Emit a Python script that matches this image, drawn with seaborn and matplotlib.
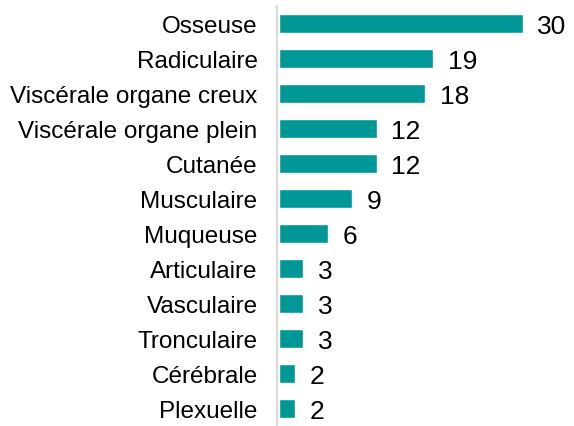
import matplotlib
matplotlib.use("Agg")
import matplotlib.pyplot as plt
import seaborn as sns
import pandas as pd

categories = ["Osseuse", "Radiculaire", "Viscérale organe creux", "Viscérale organe plein",
              "Cutanée", "Musculaire", "Muqueuse", "Articulaire", "Vasculaire",
              "Tronculaire", "Cérébrale", "Plexuelle"]
values = [30, 19, 18, 12, 12, 9, 6, 3, 3, 3, 2, 2]

df = pd.DataFrame({"cat": categories, "val": values})

sns.set_theme(style="white")
plt.rcParams['font.family'] = ['Liberation Sans', 'DejaVu Sans']

fig = plt.figure(figsize=(5.74, 4.27), dpi=100)
ax = fig.add_axes([277/574, 0, (574-277)/574, 420/427])
sns.barplot(data=df, y="cat", x="val", orient="h", color="#009896",
            saturation=1, width=0.57, ax=ax)
ax.set_xlim(-0.25, 36.3)
ax.set_ylim(len(categories) - 0.5, -0.5)
for i, v in enumerate(values):
    ax.text(v + 1.8, i + 0.06, str(v), va="center", ha="left", fontsize=19, color="black")
for s in ["top", "right", "bottom"]:
    ax.spines[s].set_visible(False)
ax.spines["left"].set_color("#d9d9d9")
ax.spines["left"].set_linewidth(1.5)
ax.set_xticks([])
ax.set_xlabel("")
ax.set_ylabel("")
ax.tick_params(axis="y", length=0, pad=14, labelsize=17.5, labelcolor="black")
fig.savefig("out.png", dpi=100)
